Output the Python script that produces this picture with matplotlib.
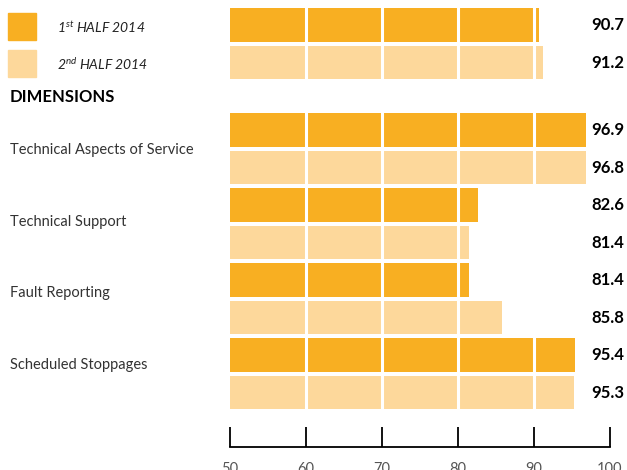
import matplotlib.pyplot as plt
from matplotlib.patches import Rectangle
from matplotlib.transforms import blended_transform_factory

plt.rcParams['font.family'] = ['Lato', 'DejaVu Sans']
plt.rcParams['mathtext.fontset'] = 'custom'
plt.rcParams['mathtext.it'] = 'Lato:italic'

categories = ["Technical Aspects of Service", "Technical Support",
              "Fault Reporting", "Scheduled Stoppages"]
overall = [90.7, 91.2]
first_half = [96.9, 82.6, 81.4, 95.4]
second_half = [96.8, 81.4, 85.8, 95.3]
series_labels = ["1$^{\\mathit{st}}$ HALF 2014", "2$^{\\mathit{nd}}$ HALF 2014"]
ticks = [50, 60, 70, 80, 90, 100]

dark = "#F8AF22"
light = "#FDD89B"

W, H = 627, 470
fig = plt.figure(figsize=(W / 100, H / 100), dpi=100)
ax = fig.add_axes([230 / W, 1 - 447 / H, 380 / W, 447 / H])

# row positions (one unit ~ 37.5 px)
y_over = [0, 1]
y_first = [2.8 + 2 * i for i in range(len(categories))]
y_second = [3.8 + 2 * i for i in range(len(categories))]
y_label = [3.33 + 1.91 * i for i in range(len(categories))]
bh = 0.9

ax.barh(y_over[0], overall[0] - 50, left=50, height=bh, color=dark)
ax.barh(y_over[1], overall[1] - 50, left=50, height=bh, color=light)
ax.barh(y_first, [v - 50 for v in first_half], left=50, height=bh, color=dark)
ax.barh(y_second, [v - 50 for v in second_half], left=50, height=bh, color=light)

# white separators across bars
ax.vlines([60, 70, 80, 90], -0.6, 10.4, color="white", lw=2.2, zorder=3)

ax.set_xlim(50, 100)
ax.set_ylim(11.25, -0.667)
for s in ["top", "left", "right"]:
    ax.spines[s].set_visible(False)
ax.spines["bottom"].set_linewidth(1.3)
ax.set_yticks([])
ax.set_xticks(ticks)
ax.tick_params(axis="x", direction="in", length=14.5, width=1.3, pad=11,
               labelsize=10.5, labelcolor="#555555", color="black")

# value labels on right
tr = blended_transform_factory(fig.transFigure, ax.transData)
for y, v in zip(y_over + y_first + y_second, overall + first_half + second_half):
    ax.text(624 / W, y, f"{v}", transform=tr, ha="right", va="center",
            fontsize=12, fontweight="bold", color="black")

# category labels
for y, c in zip(y_label, categories):
    ax.text(10 / W, y, c, transform=tr, ha="left", va="center",
            fontsize=10.5, color="#333333")

# legend
for i, col in enumerate([dark, light]):
    top = 13 + i * 37
    fig.patches.append(Rectangle((8 / W, 1 - (top + 27) / H), 28 / W, 27 / H,
                                 transform=fig.transFigure, color=col))
    fig.text(57 / W, 1 - (top + 14) / H, series_labels[i], ha="left", va="center",
             fontsize=10, style="italic", color="#222222")

fig.text(10 / W, 1 - 97 / H, "DIMENSIONS", ha="left", va="center",
         fontsize=12, fontweight="bold", color="black")

fig.savefig("out.png", dpi=100)
